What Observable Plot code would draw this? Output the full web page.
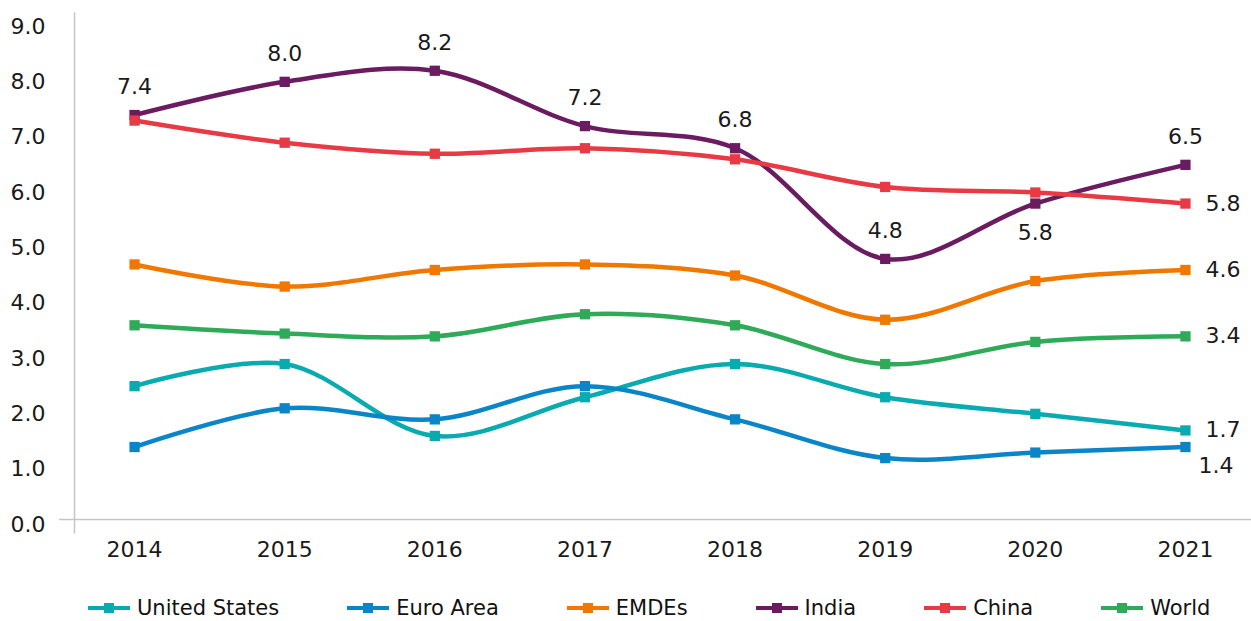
<!DOCTYPE html>
<html>
<head>
<meta charset="utf-8">
<script src="https://cdn.jsdelivr.net/npm/d3@7"></script>
<script src="https://cdn.jsdelivr.net/npm/@observablehq/plot@0.6"></script>
<style>
  html, body { margin: 0; padding: 0; background: #fff; }
  #chart { width: 1251px; }
  .legend { display: flex; align-items: center; padding-left: 88px; margin-top: 22px; height: 22px;
            font-family: "DejaVu Sans", sans-serif; font-size: 21px; color: #111; white-space: nowrap; }
  .item { display: flex; align-items: center; margin-right: 68px; }
  .item svg { margin-right: 7px; }
</style>
</head>
<body>
<div id="chart"></div>
<script>
const years = [2014, 2015, 2016, 2017, 2018, 2019, 2020, 2021];
const seriesNames = ["United States", "Euro Area", "EMDEs", "India", "China", "World"];
const seriesColors = ["#0aabb0", "#0a86c8", "#f07800", "#6b1b60", "#e83a44", "#2eaa58"];
const unitedStates = [2.5, 2.9, 1.6, 2.3, 2.9, 2.3, 2.0, 1.7];
const euroArea     = [1.4, 2.1, 1.9, 2.5, 1.9, 1.2, 1.3, 1.4];
const emdes        = [4.7, 4.3, 4.6, 4.7, 4.5, 3.7, 4.4, 4.6];
const india        = [7.4, 8.0, 8.2, 7.2, 6.8, 4.8, 5.8, 6.5];
const china        = [7.3, 6.9, 6.7, 6.8, 6.6, 6.1, 6.0, 5.8];
const world        = [3.6, 3.45, 3.4, 3.8, 3.6, 2.9, 3.3, 3.4];
const yTicks = [0, 1, 2, 3, 4, 5, 6, 7, 8, 9];

const seriesValues = [unitedStates, euroArea, emdes, india, china, world];
const rows = seriesNames.flatMap((s, i) => years.map((y, j) => ({series: s, year: y, value: seriesValues[i][j]})));

const indiaRows = rows.filter(d => d.series === "India");
const indiaAbove = indiaRows.filter(d => d.year !== 2020);
const indiaBelow = indiaRows.filter(d => d.year === 2020);
const lastYear = years[years.length - 1];
const endRight = rows.filter(d => d.year === lastYear && ["China", "EMDEs", "World", "United States"].includes(d.series));
const endBelow = rows.filter(d => d.year === lastYear && d.series === "Euro Area");
const fmt = d => d.value.toFixed(1);
const font = "DejaVu Sans, sans-serif";

const chart = Plot.plot({
  width: 1251,
  height: 575,
  marginTop: 26,
  marginLeft: 59,
  marginRight: 0,
  marginBottom: 51,
  style: {fontFamily: font, fontSize: "22px", color: "#1a1a1a", background: "#fff"},
  x: {type: "linear", domain: [2013.5, 2021.44], label: null},
  y: {domain: [0, 9], label: null},
  color: {domain: seriesNames, range: seriesColors},
  marks: [
    Plot.ruleY([0], {stroke: "#c6c6c6", strokeWidth: 1.5, dy: -5}),
    Plot.ruleX([2013.6], {y1: -0.17, y2: 9.25, stroke: "#c6c6c6", strokeWidth: 1.5}),
    Plot.axisX({ticks: years, tickSize: 0, tickPadding: 17, tickFormat: d => String(d), fontSize: 22, fill: "#1a1a1a", label: null}),
    Plot.axisY({ticks: yTicks, tickSize: 0, tickPadding: 14, tickFormat: d => d.toFixed(1), fontSize: 22, fill: "#1a1a1a", label: null}),
    Plot.line(rows, {x: "year", y: "value", stroke: "series", z: "series", curve: "catmull-rom", strokeWidth: 4.5}),
    Plot.dot(rows, {x: "year", y: "value", fill: "series", symbol: "square", r: 5.8}),
    Plot.text(indiaAbove, {x: "year", y: "value", text: fmt, dy: -28, fontSize: 22, fill: "#1a1a1a"}),
    Plot.text(indiaBelow, {x: "year", y: "value", text: fmt, dy: 29, fontSize: 22, fill: "#1a1a1a"}),
    Plot.text(endRight, {x: "year", y: "value", text: fmt, dx: 20, textAnchor: "start", fontSize: 22, fill: "#1a1a1a"}),
    Plot.text(endBelow, {x: "year", y: "value", text: fmt, dx: 13, dy: 19, textAnchor: "start", fontSize: 22, fill: "#1a1a1a"})
  ]
});
document.getElementById("chart").appendChild(chart);

const legend = document.createElement("div");
legend.className = "legend";
seriesNames.forEach((s, i) => {
  const item = document.createElement("div");
  item.className = "item";
  item.innerHTML = `<svg width="42" height="12"><line x1="0" y1="6" x2="42" y2="6" stroke="${seriesColors[i]}" stroke-width="4"/><rect x="16" y="1" width="10" height="10" fill="${seriesColors[i]}"/></svg><span>${s}</span>`;
  legend.appendChild(item);
});
document.getElementById("chart").appendChild(legend);
</script>
</body>
</html>
